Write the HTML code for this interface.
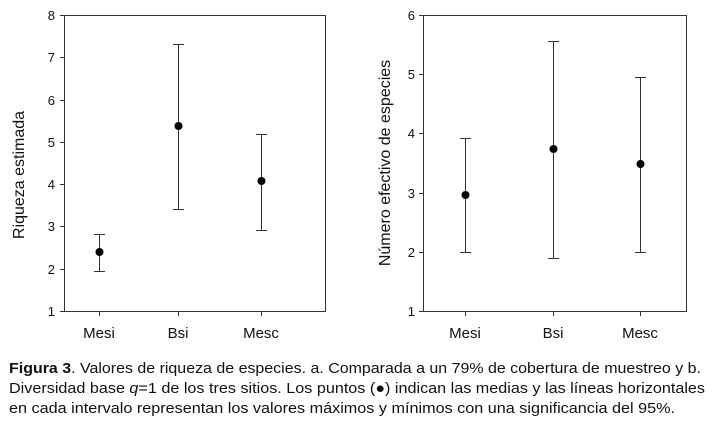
<!DOCTYPE html>
<html><head><meta charset="utf-8"><style>body{margin:0;background:#fff}svg{display:block}</style></head><body>
<svg width="712" height="431" xmlns="http://www.w3.org/2000/svg" font-family="Liberation Sans, Arial, sans-serif">
<rect width="712" height="431" fill="#fff"/>
<g stroke="#333" stroke-width="1" fill="none">
<rect x="64.5" y="15.5" width="261" height="296"/>
<rect x="423.5" y="15.5" width="263" height="296"/>
</g>
<g stroke="#333" stroke-width="1">
<line x1="60" x2="64" y1="15.5" y2="15.5"/><line x1="60" x2="64" y1="57.5" y2="57.5"/><line x1="60" x2="64" y1="100.5" y2="100.5"/><line x1="60" x2="64" y1="142.5" y2="142.5"/><line x1="60" x2="64" y1="184.5" y2="184.5"/><line x1="60" x2="64" y1="226.5" y2="226.5"/><line x1="60" x2="64" y1="269.5" y2="269.5"/><line x1="60" x2="64" y1="311.5" y2="311.5"/>
<line x1="99.5" x2="99.5" y1="311" y2="316"/><line x1="178.5" x2="178.5" y1="311" y2="316"/><line x1="261.5" x2="261.5" y1="311" y2="316"/>
<line x1="419" x2="423" y1="15.5" y2="15.5"/><line x1="419" x2="423" y1="74.5" y2="74.5"/><line x1="419" x2="423" y1="133.5" y2="133.5"/><line x1="419" x2="423" y1="193.5" y2="193.5"/><line x1="419" x2="423" y1="252.5" y2="252.5"/><line x1="419" x2="423" y1="311.5" y2="311.5"/>
<line x1="465.5" x2="465.5" y1="311" y2="316"/><line x1="553.5" x2="553.5" y1="311" y2="316"/><line x1="640.5" x2="640.5" y1="311" y2="316"/>
<path d="M99.5 234V271M94 234.5H105M94 271.5H105"/>
<path d="M178.5 44V209M173 44.5H184M173 209.5H184"/>
<path d="M261.5 134V230M256 134.5H267M256 230.5H267"/>
<path d="M465.5 138V252M460 138.5H471M460 252.5H471"/>
<path d="M553.5 41V258M548 41.5H559M548 258.5H559"/>
<path d="M640.5 77V252M635 77.5H646M635 252.5H646"/>
</g>
<g fill="#000">
<circle cx="99.5" cy="252" r="4"/><circle cx="178.5" cy="126" r="4"/><circle cx="261.5" cy="181" r="4"/>
<circle cx="465.5" cy="195" r="4"/><circle cx="553.5" cy="149" r="4"/><circle cx="640.5" cy="164" r="4"/>
</g>
<g font-size="13" text-anchor="end" fill="#111">
<text x="55" y="20">8</text><text x="55" y="62">7</text><text x="55" y="105">6</text><text x="55" y="147">5</text><text x="55" y="189">4</text><text x="55" y="231">3</text><text x="55" y="274">2</text><text x="55" y="316">1</text>
<text x="415" y="20">6</text><text x="415" y="79">5</text><text x="415" y="138">4</text><text x="415" y="198">3</text><text x="415" y="257">2</text><text x="415" y="316">1</text>
</g>
<g font-size="15" text-anchor="middle" fill="#111">
<text x="99" y="338">Mesi</text><text x="178" y="338">Bsi</text><text x="261" y="338">Mesc</text>
<text x="465" y="338">Mesi</text><text x="553" y="338">Bsi</text><text x="640" y="338">Mesc</text>
</g>
<g font-size="16" text-anchor="middle" fill="#111">
<text transform="translate(24,175) rotate(-90)">Riqueza estimada</text>
<text transform="translate(390,163) rotate(-90)">Número efectivo de especies</text>
</g>
<g font-size="15" fill="#111">
<text x="9" y="373" textLength="692" lengthAdjust="spacingAndGlyphs"><tspan font-weight="bold">Figura 3</tspan>. Valores de riqueza de especies. a. Comparada a un 79% de cobertura de muestreo y b.</text>
<text x="9" y="393" textLength="696" lengthAdjust="spacingAndGlyphs">Diversidad base <tspan font-style="italic">q</tspan>=1 de los tres sitios. Los puntos (●) indican las medias y las líneas horizontales</text>
<text x="9" y="413" textLength="666" lengthAdjust="spacingAndGlyphs">en cada intervalo representan los valores máximos y mínimos con una significancia del 95%.</text>
</g>
</svg>
</body></html>
